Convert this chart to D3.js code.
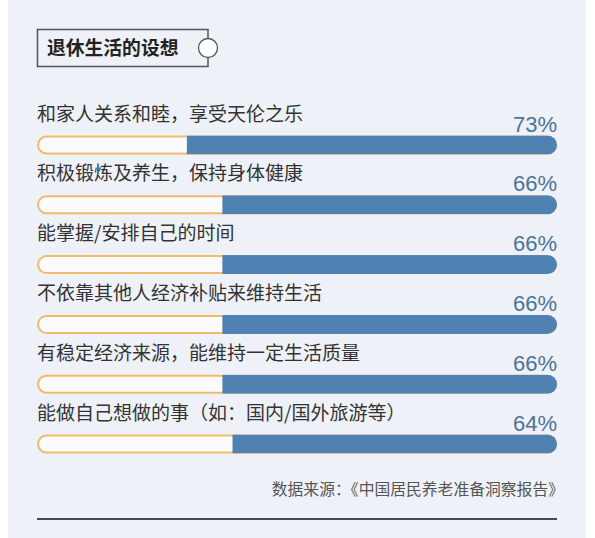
<!DOCTYPE html>
<html><head><meta charset="utf-8">
<script src="https://cdn.jsdelivr.net/npm/d3@7"></script>
<style>html,body{margin:0;padding:0;background:#fff;}svg{display:block;}</style>
</head><body>
<script>
const title = "退休生活的设想";
const categories = [
  "和家人关系和睦，享受天伦之乐",
  "积极锻炼及养生，保持身体健康",
  "能掌握/安排自己的时间",
  "不依靠其他人经济补贴来维持生活",
  "有稳定经济来源，能维持一定生活质量",
  "能做自己想做的事（如：国内/国外旅游等）"
];
const values = [73, 66, 66, 66, 66, 64];
const source = "数据来源：《中国居民养老准备洞察报告》";

const W = 595, H = 538;
const svg = d3.select("body").append("svg").attr("width", W).attr("height", H);
svg.append("rect").attr("x", 0).attr("y", 0).attr("width", W).attr("height", H).attr("fill", "#fff");
svg.append("rect").attr("x", 8).attr("y", 0).attr("width", 578).attr("height", H).attr("fill", "#eef1f8");

const cjk = "'Noto Sans CJK SC','Noto Sans',sans-serif";
const left = 37, right = 557, barH = 17;

// title box
const tb = svg.append("g");
tb.append("path")
  .attr("d", `M208,38.5 L208,29.5 L37.5,29.5 L37.5,66.5 L208,66.5 L208,57.5`)
  .attr("fill", "none").attr("stroke", "#555").attr("stroke-width", 1.5);
tb.append("circle").attr("cx", 208).attr("cy", 48).attr("r", 9.5)
  .attr("fill", "#fff").attr("stroke", "#555").attr("stroke-width", 1.3);
tb.append("text").attr("x", 47).attr("y", 55).text(title)
  .attr("font-family", cjk).attr("font-size", 18.8).attr("font-weight", 700).attr("fill", "#222");

const y = d3.scaleBand().domain(categories).range([136.5, 136.5 + 59.8 * 6]).paddingInner(0).paddingOuter(0);
const x = d3.scaleLinear().domain([0, 100]).range([0, 507]);

const rows = svg.selectAll("g.row").data(categories).join("g").attr("class", "row")
  .attr("transform", d => `translate(0,${y(d)})`);

rows.append("text").attr("x", left).attr("y", -16).text(d => d)
  .attr("font-family", cjk).attr("font-size", 19).attr("fill", "#333");

rows.append("text").attr("x", right).attr("y", -5).attr("text-anchor", "end")
  .text((d, i) => values[i] + "%")
  .attr("font-family", "'Liberation Sans',Arial,sans-serif").attr("font-size", 22).attr("fill", "#4d7399");

// track
rows.append("rect").attr("x", left + 1).attr("y", 0).attr("width", right - left - 2).attr("height", barH)
  .attr("rx", barH / 2).attr("ry", barH / 2)
  .attr("fill", "#fbfbfd").attr("stroke", "#efbd68").attr("stroke-width", 2);

// value bar clipped to track shape
rows.each(function(d, i) {
  const g = d3.select(this);
  const id = "clip" + i;
  g.append("clipPath").attr("id", id).append("rect")
    .attr("x", left).attr("y", -1).attr("width", right - left).attr("height", barH + 2)
    .attr("rx", (barH + 2) / 2).attr("ry", (barH + 2) / 2);
  g.append("rect").attr("clip-path", `url(#${id})`)
    .attr("x", right - x(values[i])).attr("y", -1).attr("width", x(values[i])).attr("height", barH + 2)
    .attr("fill", "#4f82b2");
});

svg.append("text").attr("x", 564).attr("y", 495).attr("text-anchor", "end").text(source)
  .attr("font-family", cjk).attr("font-size", 15.8).attr("fill", "#555");

svg.append("line").attr("x1", left).attr("x2", right).attr("y1", 519).attr("y2", 519)
  .attr("stroke", "#111").attr("stroke-width", 1.5);
</script>
</body></html>
